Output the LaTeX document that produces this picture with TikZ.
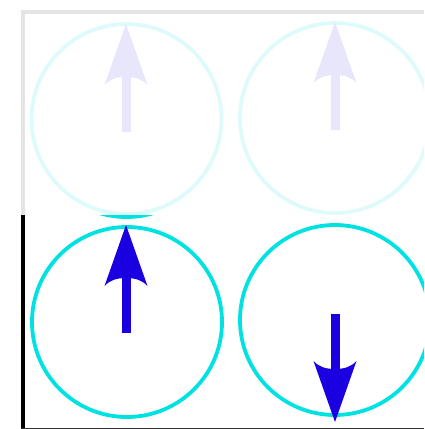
\documentclass[tikz,border=0pt]{standalone}
\usepackage{tikz}
\usetikzlibrary{positioning}
\definecolor{spin}{RGB}{26,0,224}
\definecolor{spinfaint}{RGB}{232,230,251}
\definecolor{ringc}{RGB}{0,226,226}
\definecolor{ringfaint}{RGB}{222,250,250}
\definecolor{rulegray}{RGB}{228,228,228}
\definecolor{axisgray}{RGB}{50,50,50}
\tikzset{
  ring/.style={circle,draw=ringc,line width=3.8pt,minimum size=190pt,inner sep=0pt},
  faintring/.style={ring,draw=ringfaint},
  rule/.style={line width=4pt},
}
% spin arrow: #1 colour, #2 tip, #3 = 1 (up) or -1 (down)
\newcommand{\spinarrow}[3]{%
  \begin{scope}[shift={#2},yscale=#3]
    \fill[#1] (0,0) -- (21.5,61) .. controls (16,55) and (9,53) .. (0,53)
      .. controls (-9,53) and (-16,55) .. (-21.5,61) -- cycle;
    \fill[#1] (-4.5,52) rectangle (4.5,108);
  \end{scope}}

\begin{document}
\begin{tikzpicture}[x=1pt,y=-1pt]
  \useasboundingbox (0,0) rectangle (424,429);
  \clip (0,0) rectangle (424,429);
  % frame
  \draw[rule,rulegray] (23,215) -- (23,12) -- (424,12);
  \draw[rule,black] (23,215) -- (23,429);
  \draw[axisgray,line width=1.5pt] (21,428.5) -- (424,428.5);
  % previous states (faded)
  \node[faintring] (u0) at (126.5,119) {};
  \node[faintring] (u1) at (335,118) {};
  \begin{scope}
    \clip (0,215) rectangle (424,429);
    \draw[ringc,line width=3.8pt] ([yshift=-3pt]u0.center) circle (95);
  \end{scope}
  % current states
  \node[ring] (d0) at (127,322) {};
  \node[ring] (d1) at (335,320) {};
  \spinarrow{spinfaint}{(126,24)}{1}
  \spinarrow{spinfaint}{(335,22)}{1}
  \spinarrow{spin}{(126,225)}{1}
  \spinarrow{spin}{(335,422)}{-1}
\end{tikzpicture}
\end{document}
